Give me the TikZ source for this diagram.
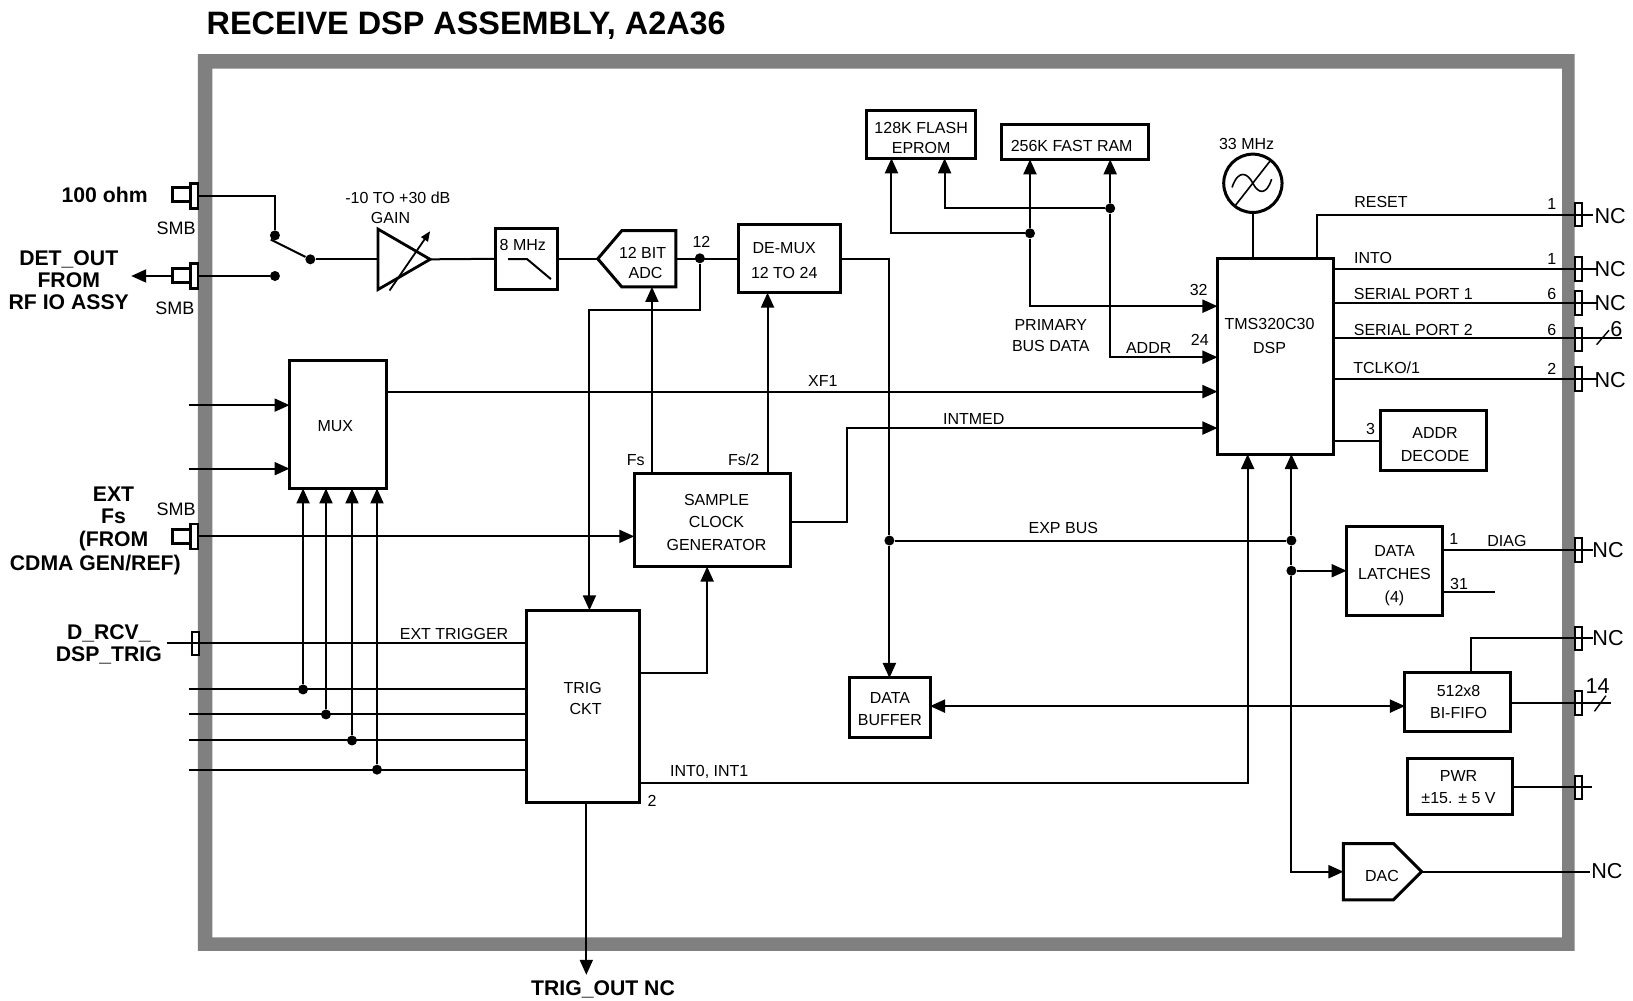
\documentclass[tikz,border=0pt]{standalone}
\usepackage{fontspec}
\setmainfont{Liberation Sans}
\usetikzlibrary{arrows.meta, shapes.geometric, shapes.symbols, calc}
\tikzset{
	smalltext/.style={font=\fontsize{8}{11}\selectfont, inner sep=0pt, align=center},
	smbtext/.style={font=\fontsize{9}{11}\selectfont, inner sep=0pt},
	boldtext/.style={font=\fontsize{10.6}{11.2}\selectfont\bfseries, inner sep=0pt, align=center},
	nctext/.style={font=\fontsize{10.8}{12}\selectfont, inner sep=0pt}
}
\tikzset{
	wire/.style={line width=1pt},
	sig/.style={line width=1pt, -{Triangle[length=7.5pt,width=6.5pt]}},
	bothsig/.style={line width=1pt, {Triangle[length=7.5pt,width=6.5pt]}-{Triangle[length=7.5pt,width=6.5pt]}},
	thickbox/.style={draw=black, line width=1.5pt, fill=white, outer sep=0pt, inner sep=0pt},
	dims/.style 2 args={minimum width=#1*0.5207pt, minimum height=#2*0.5207pt},
	jdot/.style={circle, fill=black, inner sep=0pt, minimum size=5pt},
	portbox/.style={draw=black, line width=1pt, fill=white, inner sep=0pt, outer sep=0pt,
		minimum width=3.6pt, minimum height=11.8pt},
	smbbody/.style={draw=black, line width=1.5pt, fill=white, inner sep=0pt, outer sep=0pt,
		minimum width=10.4pt, minimum height=7pt},
	smbflange/.style={draw=black, line width=1.3pt, fill=white, inner sep=0pt, outer sep=0pt,
		minimum width=3.6pt, minimum height=12.5pt}
}
\begin{document}
\begin{tikzpicture}[x=0.5207pt,y=-0.5207pt]
	\useasboundingbox (0,0) rectangle (1568,961);

	% panel
	\fill[fill=black!50, even odd rule] (190,52) rectangle (1512,913) (204,66) rectangle (1500,900);
	\node[anchor=west, font=\fontsize{16.2}{18}\selectfont\bfseries, inner sep=0pt] (title) at (198,24.5) {RECEIVE DSP ASSEMBLY, A2A36};

	% levels used by the connectors
	\coordinate (xfy) at (0,376);
	\coordinate (intmedy) at (0,411);
	\coordinate (busy) at (0,294);
	\coordinate (addry) at (0,343);
	\coordinate (intoy) at (0,258);
	\coordinate (spay) at (0,291);
	\coordinate (spby) at (0,325);
	\coordinate (tclky) at (0,364);
	\coordinate (decy) at (0,423);
	\coordinate (inty) at (0,752);
	\coordinate (fifoy) at (0,678);
	\coordinate (diagy) at (0,528);
	\coordinate (clky) at (0,646);
	\coordinate (clkoy) at (0,501);
	\coordinate (fsx) at (626,0);
	\coordinate (fsbx) at (737,0);
	\coordinate (clkx) at (679,0);
	\coordinate (intx) at (1198,0);
	\coordinate (expx) at (1240,0);
	\coordinate (rstx) at (1265,0);
	\coordinate (fifx) at (1412,0);
	\coordinate (flax) at (856,0);
	\coordinate (flbx) at (907,0);
	\coordinate (outx) at (563,0);
	\coordinate (bendx) at (813,411);

	% blocks
	\node[thickbox, dims={59}{59}] (filter) at (505.5,248.5) {};
	\node[smalltext] (filtertext) at (502,235) {8 MHz};
	\node[thickbox, signal, signal to=west, signal pointer angle=99, dims={75}{54}] (adc) at (623,248.5) {};
	\node[smalltext, font=\fontsize{8}{9.8}\selectfont] (adctext) at (617,252.5) {12 BIT\\\hspace{3pt}ADC};
	\node[thickbox, dims={98}{65}] (demux) at (758,248.5) {};
	\node[smalltext, font=\fontsize{8}{12.5}\selectfont] (demuxtext) at (753,250.5) {DE-MUX\\12 TO 24};
	\node[thickbox, dims={93}{123}] (mux) at (324.5,407.5) {};
	\node[smalltext] (muxtext) at (322,409) {MUX};
	\node[thickbox, dims={150}{89}] (clock) at (684,499.5) {};
	\node[smalltext] (clocktext) at (688,501.5) {SAMPLE\\[0.4pt]CLOCK\\[0.4pt]GENERATOR};
	\node[thickbox, dims={108}{185}] (trig) at (560,678.5) {};
	\node[smalltext, font=\fontsize{8}{10.4}\selectfont] (trigtext) at (559.5,671) {TRIG\\\hspace{3pt}CKT};
	\node[thickbox, dims={105}{46}] (flash) at (884.5,129) {};
	\node[smalltext, font=\fontsize{8}{9.8}\selectfont] (flashtext) at (884.5,132.5) {128K FLASH\\EPROM};
	\node[thickbox, dims={141}{33}] (ram) at (1032.5,136.5) {};
	\node[smalltext] (ramtext) at (1029,140.5) {256K FAST RAM};
	\node[thickbox, circle, minimum size=56*0.5207pt] (osc) at (1203,176) {};
	\node[thickbox, dims={111}{188}] (dsp) at (1224.5,342) {};
	\node[smalltext] (dsptext) at (1219,322.5) {TMS320C30\\[1pt]DSP};
	\node[thickbox, dims={101}{58}] (decode) at (1376.5,423) {};
	\node[smalltext, font=\fontsize{8}{11.5}\selectfont] (decodetext) at (1378,427) {ADDR\\DECODE};
	\node[thickbox, dims={92}{85}] (latch) at (1339,548.5) {};
	\node[smalltext, font=\fontsize{8}{11.6}\selectfont] (latchtext) at (1339,552.5) {DATA\\LATCHES\\(4)};
	\node[thickbox, dims={77}{57}] (buffer) at (854.5,679.5) {};
	\node[smalltext] (buffertext) at (854.5,681) {DATA\\BUFFER};
	\node[thickbox, dims={101}{56}] (fifo) at (1399.5,674) {};
	\node[smalltext] (fifotext) at (1400.5,674.5) {512x8\\BI-FIFO};
	\node[thickbox, dims={101}{54}] (pwr) at (1401.5,755) {};
	\node[smalltext] (pwrtext) at (1400.5,756) {PWR\\±15. ± 5 V};
	\node[thickbox, signal, signal to=east, signal pointer angle=90, dims={75}{54}] (dac) at (1314,837) {};
	\node[smalltext] (dactext) at (1327,841) {DAC};
	\node[isosceles triangle, isosceles triangle stretches, draw=black, line width=1.4pt, fill=white,
		inner sep=0pt, outer sep=0pt, minimum width=58*0.5207pt, minimum height=50*0.5207pt,
		anchor=lower side] (amp) at (363,249) {};

	% filter and oscillator marks, amp arrow
	\draw[wire] (488,248.7) -- (506,248.7) -- (529,268);
	\coordinate (ampa) at (374,279);
	\coordinate (ampb) at (413,222);
	\draw[line width=0.9pt, -{Triangle[length=5pt,width=4pt]}] (ampa) -- (ampb);
	\draw[line width=0.8pt] (1186,197.5) -- (1220,154);
	\draw[line width=0.8pt] (1183,180) .. controls (1189,162) and (1198,166) .. (1203,176) .. controls (1208,186) and (1216,188) .. (1221,172);

	% junctions
	\node[jdot] (swa) at (264,226) {};
	\node[jdot] (swb) at (264,265) {};
	\node[jdot] (swc) at (298,249) {};
	\node[jdot] (adcdot) at (672,248) {};
	\node[jdot] (ramadot) at (989,224) {};
	\node[jdot] (rambdot) at (1066,200) {};
	\node[jdot] (bufdot) at (854,519) {};
	\node[jdot] (expdot) at (1240,519) {};
	\node[jdot] (latdot) at (1240,548) {};
	\node[jdot] (trga) at (291,662) {};
	\node[jdot] (trgb) at (313,686) {};
	\node[jdot] (trgc) at (338,711) {};
	\node[jdot] (trgd) at (362,739) {};

	% panel connectors
	\node[smbbody] (smbabody) at (176,187) {};
	\node[smbflange] (smba) at (186.5,188) {};
	\node[smbbody] (smbbbody) at (176,265) {};
	\node[smbflange] (smbb) at (186.5,265) {};
	\node[smbbody] (smbcbody) at (176,515) {};
	\node[smbflange] (smbc) at (186.5,515) {};
	\node[portbox] (dtrig) at (188,618) {};
	\node[portbox] (pa) at (1515.5,206) {};
	\node[portbox] (pb) at (1515.5,258) {};
	\node[portbox] (pc) at (1515.5,291) {};
	\node[portbox] (pd) at (1515.5,326) {};
	\node[portbox] (pe) at (1515.5,364) {};
	\node[portbox] (pf) at (1515.5,528) {};
	\node[portbox] (pg) at (1515.5,613) {};
	\node[portbox] (ph) at (1515.5,675) {};
	\node[portbox] (pi) at (1515.5,756) {};

	% free ends
	\coordinate (armend) at (260,230);
	\coordinate (detend) at (126,265);
	\coordinate (muxa) at (181,389);
	\coordinate (muxb) at (181,450);
	\coordinate (dtrigend) at (160,617);
	\coordinate (linea) at (181,662);
	\coordinate (lineb) at (181,686);
	\coordinate (linec) at (181,711);
	\coordinate (lined) at (181,739);
	\coordinate (trigout) at (563,936);
	\coordinate (trigin) at (566,298);
	\coordinate (oute) at (1530,206);
	\coordinate (outf) at (1533,258);
	\coordinate (outg) at (1534,291);
	\coordinate (outh) at (1557,325);
	\coordinate (outi) at (1533,364);
	\coordinate (outj) at (1530,528);
	\coordinate (outk) at (1435,568);
	\coordinate (outl) at (1530,613);
	\coordinate (outm) at (1547,675);
	\coordinate (outn) at (1529,756);
	\coordinate (outp) at (1527,837);

	% input side
	\draw[wire] (smba.east) -| (swa);
	\draw[wire] (smbb.east) -- (swb);
	\draw[sig] (smbbbody.west) -- (detend);
	\draw[wire] (swc) -- (armend);
	\draw[wire] (swc) -- (amp.lower side);
	\draw[wire] (amp.apex) -- (filter.west);
	\draw[wire] (filter.east) -- (adc.west);
	\draw[wire] (adc.east) -- (demux.west);
	\draw[sig] (adcdot) |- (trigin) -- (trig.north -| trigin);
	\draw[sig] (clock.north -| fsx) -- (adc.south -| fsx);
	\draw[sig] (clock.north -| fsbx) -- (demux.south -| fsbx);
	\draw[wire] (demux.east) -| (bufdot);
	\draw[sig] (bufdot) -- (buffer.north -| bufdot);
	\draw[sig] (smbc.east) -- (clock.west |- smbc.east);
	\draw[sig] (muxa) -- (mux.west |- muxa);
	\draw[sig] (muxb) -- (mux.west |- muxb);
	\draw[wire] (dtrigend) -- (trig.west |- dtrigend);
	\draw[wire] (linea) -- (trig.west |- linea);
	\draw[wire] (lineb) -- (trig.west |- lineb);
	\draw[wire] (linec) -- (trig.west |- linec);
	\draw[wire] (lined) -- (trig.west |- lined);
	\draw[sig] (trga) -- (mux.south -| trga);
	\draw[sig] (trgb) -- (mux.south -| trgb);
	\draw[sig] (trgc) -- (mux.south -| trgc);
	\draw[sig] (trgd) -- (mux.south -| trgd);
	\draw[sig] (trig.east |- clky) -| (clock.south -| clkx);
	\draw[sig] (trig.south -| outx) -- (trigout);

	% dsp side
	\draw[sig] (mux.east |- xfy) -- (dsp.west |- xfy);
	\draw[sig] (clock.east |- clkoy) -| (bendx) -- (dsp.west |- intmedy);
	\draw[sig] (trig.east |- inty) -| (dsp.south -| intx);
	\draw[wire] (bufdot) -- (expdot);
	\draw[sig] (expdot) -- (dsp.south -| expx);
	\draw[wire] (expdot) -- (latdot);
	\draw[sig] (latdot) -- (latch.west |- latdot);
	\draw[sig] (latdot) |- (dac.west);
	\draw[bothsig] (buffer.east |- fifoy) -- (fifo.west |- fifoy);
	\draw[sig] (ramadot) -- (ram.south -| ramadot);
	\draw[sig] (ramadot) |- (dsp.west |- busy);
	\draw[sig] (ramadot) -| (flash.south -| flax);
	\draw[sig] (rambdot) -| (flash.south -| flbx);
	\draw[sig] (rambdot) -- (ram.south -| rambdot);
	\draw[sig] (rambdot) |- (dsp.west |- addry);
	\draw[wire] (osc.south) -- (dsp.north -| osc.south);

	% outputs
	\draw[wire] (dsp.north -| rstx) |- (oute);
	\draw[wire] (dsp.east |- intoy) -- (outf);
	\draw[wire] (dsp.east |- spay) -- (outg);
	\draw[wire] (dsp.east |- spby) -- (outh);
	\draw[wire] (dsp.east |- tclky) -- (outi);
	\draw[wire] (dsp.east |- decy) -- (decode.west);
	\draw[wire] (latch.east |- diagy) -- (outj);
	\draw[wire] (latch.east |- outk) -- (outk);
	\draw[wire] (fifo.north -| fifx) |- (outl);
	\draw[wire] (fifo.east |- outm) -- (outm);
	\draw[wire] (pwr.east |- outn) -- (outn);
	\draw[wire] (dac.east) -- (outp);
	\draw[line width=0.7pt] (1533,331) -- (1545,317);
	\draw[line width=0.7pt] (1531,683) -- (1542,668);

	% labels
	\node[boldtext] (lab100) at (100.5,187) {100 ohm};
	\node[smbtext] (smblaba) at (169,219) {SMB};
	\node[boldtext] (labdet) at (66,269) {DET\_OUT\\FROM\\RF IO ASSY};
	\node[smbtext] (smblabb) at (168,296) {SMB};
	\node[boldtext] (labext) at (109,498) {EXT\\Fs\\(FROM};
	\node[boldtext] (labcdma) at (91.5,542.5) {CDMA GEN/REF)};
	\node[smbtext] (smblabc) at (169,489) {SMB};
	\node[boldtext] (labdrcv) at (104.5,619) {D\_RCV\_\\DSP\_TRIG};
	\node[smalltext] (labgain) at (382,190) {-10 TO +30 dB};
	\node[smalltext] (labgainb) at (375,209) {GAIN};
	\node[smalltext] (lab12) at (673.5,232) {12};
	\node[smalltext] (labfs) at (610.5,441.5) {Fs};
	\node[smalltext] (labfsb) at (714,441.5) {Fs/2};
	\node[smalltext] (labxf) at (790,366) {XF1};
	\node[smalltext] (labintmed) at (935,402) {INTMED};
	\node[smalltext] (labexp) at (1021,507) {EXP BUS};
	\node[smalltext] (labtrig) at (436,608.5) {EXT TRIGGER};
	\node[smalltext] (labint) at (681,741.5) {INT0, INT1};
	\node[smalltext] (lab2) at (626,769) {2};
	\node[boldtext] (labout) at (579,950) {TRIG\_OUT NC};
	\node[smalltext] (lab33) at (1197,138) {33 MHz};
	\node[smalltext] (labbus) at (1009,322.5) {PRIMARY\\[-0.5pt]BUS DATA};
	\node[smalltext] (labaddr) at (1103,334) {ADDR};
	\node[smalltext] (lab32) at (1151,278) {32};
	\node[smalltext] (lab24) at (1152,326) {24};
	\node[smalltext] (labreset) at (1326,194) {RESET};
	\node[smalltext] (labinto) at (1318.5,247.5) {INTO};
	\node[smalltext] (labspa) at (1357,282) {SERIAL PORT 1};
	\node[smalltext] (labspb) at (1357,317) {SERIAL PORT 2};
	\node[smalltext] (labtclk) at (1331.5,353.5) {TCLKO/1};
	\node[smalltext] (numa) at (1490,196) {1};
	\node[smalltext] (numb) at (1490,249) {1};
	\node[smalltext] (numc) at (1490,282) {6};
	\node[smalltext] (numd) at (1490,317) {6};
	\node[smalltext] (nume) at (1490,354) {2};
	\node[smalltext] (lab3) at (1316,412) {3};
	\node[smalltext] (lab1) at (1396,518) {1};
	\node[smalltext] (labdiag) at (1447,519) {DIAG};
	\node[smalltext] (lab31) at (1401,561) {31};
	\node[nctext] (nca) at (1546,207) {NC};
	\node[nctext] (ncb) at (1546,258) {NC};
	\node[nctext] (ncc) at (1546,291) {NC};
	\node[nctext] (ncd) at (1552,316) {6};
	\node[nctext] (nce) at (1546,365) {NC};
	\node[nctext] (ncf) at (1544,528) {NC};
	\node[nctext] (ncg) at (1544,613) {NC};
	\node[nctext] (nch) at (1534,659) {14};
	\node[nctext] (nci) at (1543,836) {NC};
\end{tikzpicture}
\end{document}
